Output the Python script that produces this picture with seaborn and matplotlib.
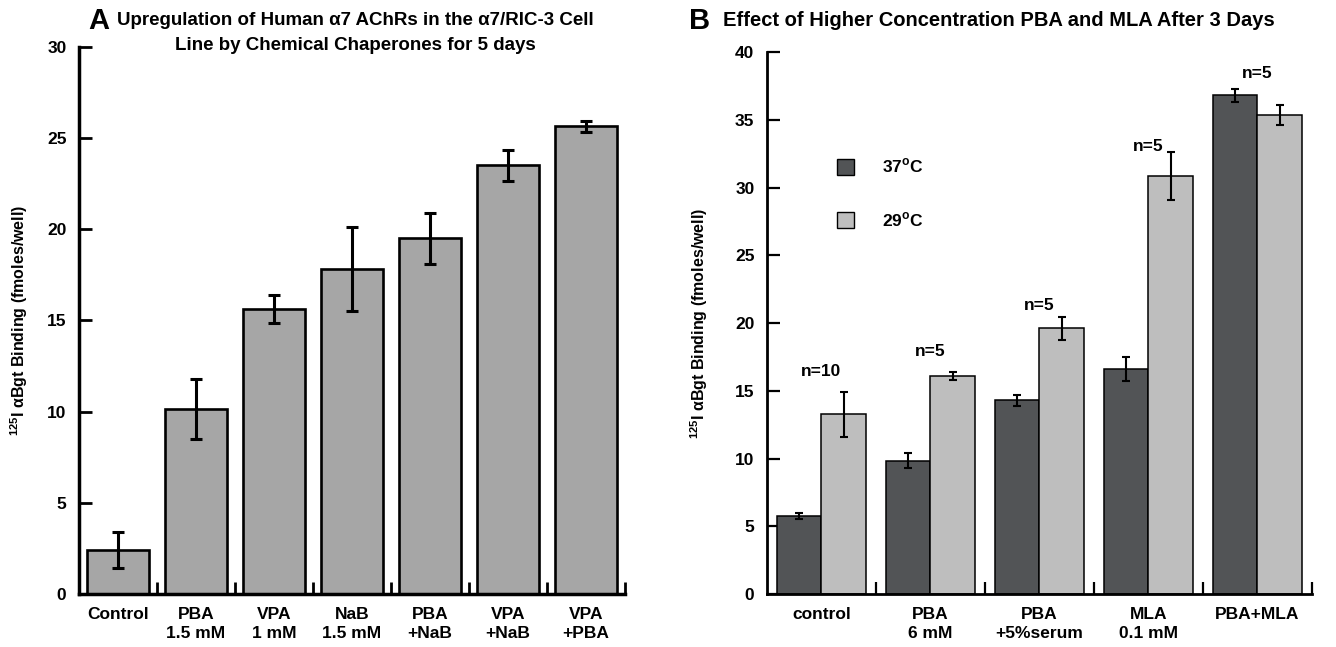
import numpy as np
import pandas as pd
import matplotlib
matplotlib.use("Agg")
import matplotlib.pyplot as plt
import seaborn as sns
from matplotlib.patches import Patch
from matplotlib.ticker import FixedLocator

# Panel A data
a_labels = ["Control", "PBA\n1.5 mM", "VPA\n1 mM", "NaB\n1.5 mM", "PBA\n+NaB", "VPA\n+NaB", "VPA\n+PBA"]
a_means = [2.4, 10.15, 15.65, 17.8, 19.5, 23.5, 25.65]
a_errs = [1.0, 1.65, 0.77, 2.3, 1.42, 0.87, 0.3]

# Panel B data
b_labels = ["control", "PBA\n6 mM", "PBA\n+5%serum", "MLA\n0.1 mM", "PBA+MLA"]
b_temps = ["37", "29"]
b_37 = [5.75, 9.85, 14.3, 16.6, 36.8]
b_37_err = [0.25, 0.55, 0.4, 0.9, 0.5]
b_29 = [13.25, 16.1, 19.6, 30.85, 35.35]
b_29_err = [1.65, 0.3, 0.85, 1.75, 0.75]
b_n = ["n=10", "n=5", "n=5", "n=5", "n=5"]
b_n_y = [16.4, 17.9, 21.3, 33.0, 38.4]

sns.set_style("ticks")
plt.rcParams["font.family"] = ["Liberation Sans", "DejaVu Sans"]
plt.rcParams["font.weight"] = "bold"
plt.rcParams["mathtext.fontset"] = "custom"
plt.rcParams["mathtext.rm"] = "Liberation Sans:bold"
plt.rcParams["mathtext.bf"] = "Liberation Sans:bold"
for k in ["text.color", "axes.labelcolor", "xtick.color", "ytick.color", "axes.edgecolor"]:
    plt.rcParams[k] = "black"

fig = plt.figure(figsize=(13.36, 6.47), dpi=100)
ax1 = fig.add_axes([0.0591, 0.0819, 0.4087, 0.8455])
ax2 = fig.add_axes([0.5741, 0.0819, 0.4079, 0.8377])

# ---- Panel A ----
df_a = pd.DataFrame({"cond": a_labels, "val": a_means})
sns.barplot(data=df_a, x="cond", y="val", color="#a6a6a6", edgecolor="black",
            linewidth=1.9, width=0.8, saturation=1, ax=ax1)
ax1.errorbar(np.arange(len(a_labels)), a_means, yerr=a_errs, fmt="none",
             ecolor="black", elinewidth=2.2, capsize=4.5, capthick=2.2)
ax1.set_xlim(-0.5, len(a_labels) - 0.5)
ax1.set_ylim(0, 30)
ax1.set_yticks(range(0, 31, 5))

# ---- Panel B ----
df_b = pd.DataFrame({
    "cond": b_labels * 2,
    "temp": [b_temps[0]] * len(b_labels) + [b_temps[1]] * len(b_labels),
    "val": b_37 + b_29,
})
sns.barplot(data=df_b, x="cond", y="val", hue="temp", hue_order=b_temps,
            palette=["#525456", "#bebebe"], edgecolor="black", linewidth=1.1,
            width=0.81, saturation=1, legend=False, ax=ax2)
for cont, errs in zip(ax2.containers, [b_37_err, b_29_err]):
    xs = [p.get_x() + p.get_width() / 2 for p in cont.patches]
    ys = [p.get_height() for p in cont.patches]
    ax2.errorbar(xs, ys, yerr=errs, fmt="none", ecolor="black",
                 elinewidth=1.5, capsize=3, capthick=1.5)
for i, (t, y) in enumerate(zip(b_n, b_n_y)):
    ax2.text(i, y, t, ha="center", va="center", fontsize=12.5, fontweight="bold")
ax2.set_xlim(-0.5, len(b_labels) - 0.5)
ax2.set_ylim(0, 40)
ax2.set_yticks(range(0, 41, 5))

handles = [Patch(facecolor="#525456", edgecolor="black", linewidth=1.0),
           Patch(facecolor="#bebebe", edgecolor="black", linewidth=1.0)]
ax2.legend(handles, [r"37$^{\mathbf{o}}$C", r"29$^{\mathbf{o}}$C"], frameon=False,
           loc="upper left", bbox_to_anchor=(0.10, 0.835), handlelength=1.0,
           handleheight=1.0, labelspacing=2.0, handletextpad=1.6,
           prop={"weight": "bold", "size": 12.5})

ylabel = r"$^{125}$I αBgt Binding (fmoles/well)"
for ax, lw, ylc in [(ax1, 2.5, -0.09), (ax2, 2.0, -0.105)]:
    sns.despine(ax=ax)
    for s in ["left", "bottom"]:
        ax.spines[s].set_linewidth(lw)
    ax.set_xlabel("")
    ax.set_ylabel(ylabel, fontsize=11.5, fontweight="bold")
    ax.yaxis.set_label_coords(ylc, 0.5)
    n = len(ax.get_xticks())
    ax.xaxis.set_minor_locator(FixedLocator(np.arange(0.5, n, 1.0)))
    ax.tick_params(axis="x", which="major", length=0, pad=9, labelsize=12.5)
    ax.tick_params(axis="x", which="minor", direction="in", length=9, width=lw * 0.8)
    ax.tick_params(axis="y", direction="in", length=9, width=lw * 0.8, pad=9, labelsize=12.5)
    for lab in ax.get_xticklabels() + ax.get_yticklabels():
        lab.set_fontweight("bold")
    for lab in ax.get_xticklabels():
        lab.set_linespacing(1.35)

# titles
fig.text(0.066, 0.968, "A", fontsize=21, fontweight="bold", ha="left", va="center")
fig.text(0.266, 0.968, "Upregulation of Human α7 AChRs in the α7/RIC-3 Cell",
         fontsize=13.5, fontweight="bold", ha="center", va="center")
fig.text(0.266, 0.930, "Line by Chemical Chaperones for 5 days",
         fontsize=13.5, fontweight="bold", ha="center", va="center")
fig.text(0.516, 0.968, "B", fontsize=21, fontweight="bold", ha="left", va="center")
fig.text(0.541, 0.968, "Effect of Higher Concentration PBA and MLA After 3 Days",
         fontsize=14.5, fontweight="bold", ha="left", va="center")

fig.savefig("out.png", dpi=100)
